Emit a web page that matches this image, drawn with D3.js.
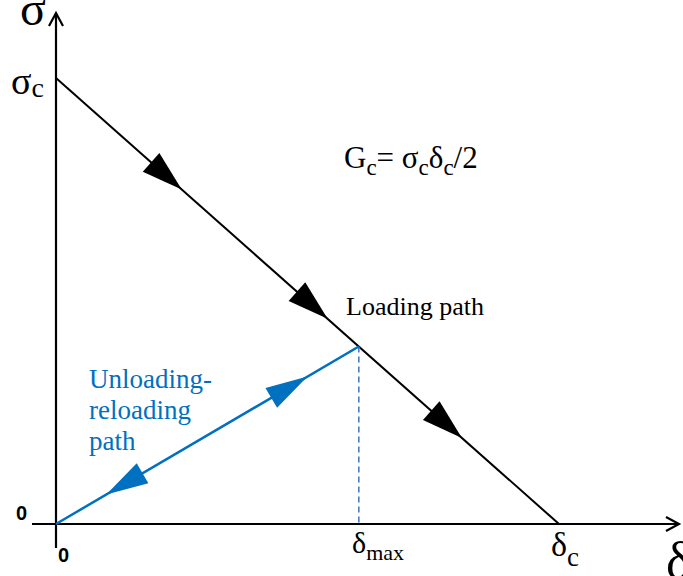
<!DOCTYPE html>
<html>
<head>
<meta charset="utf-8">
<script src="https://cdn.jsdelivr.net/npm/d3@7"></script>
<style>
  html, body { margin: 0; padding: 0; background: #fff; }
  svg { display: block; font-family: "Liberation Serif", "Times New Roman", serif; }
</style>
</head>
<body>
<div id="chart"></div>
<script>
// Normalised cohesive law: sigma / sigma_c vs delta / delta_c
const loadingPath = [ { d: 0, s: 1 }, { d: 1, s: 0 } ];
const deltaMax = 0.602;
const unloadPath = [ { d: 0, s: 0 }, { d: deltaMax, s: 1 - deltaMax } ];
const loadArrows = [0.25, 0.54, 0.807];     // arrow tips along loading path (delta)
const unloadArrows = [ { d: 0.50, dir: 1 }, { d: 0.10, dir: -1 } ];
const tickLabels = { x0: "0", y0: "0" };
const unloadLabel = ["Unloading-", "reloading", "path"];

const width = 683, height = 576;
const svg = d3.select("#chart").append("svg")
  .attr("width", width).attr("height", height);

const x = d3.scaleLinear().domain([0, 1]).range([56, 559]);
const y = d3.scaleLinear().domain([0, 1]).range([524, 78]);

const blue = "#0070C0";

// ---- axes ----
svg.append("line")
  .attr("x1", x(0)).attr("y1", 548).attr("x2", x(0)).attr("y2", 14)
  .attr("stroke", "#000").attr("stroke-width", 2.2);
svg.append("path")
  .attr("d", `M${x(0) - 7},${26} L${x(0)},${13} L${x(0) + 7},${26}`)
  .attr("fill", "none").attr("stroke", "#000").attr("stroke-width", 2.2);

svg.append("line")
  .attr("x1", 32).attr("y1", y(0)).attr("x2", 678).attr("y2", y(0))
  .attr("stroke", "#000").attr("stroke-width", 2.2);
svg.append("path")
  .attr("d", `M${666},${y(0) - 7} L${679},${y(0)} L${666},${y(0) + 7}`)
  .attr("fill", "none").attr("stroke", "#000").attr("stroke-width", 2.2);

// ---- lines ----
const line = d3.line().x(p => x(p.d)).y(p => y(p.s));

svg.append("path").attr("d", line(loadingPath))
  .attr("fill", "none").attr("stroke", "#000").attr("stroke-width", 2);

svg.append("line")
  .attr("x1", x(deltaMax)).attr("y1", y(1 - deltaMax))
  .attr("x2", x(deltaMax)).attr("y2", y(0))
  .attr("stroke", "#4a7cc4").attr("stroke-width", 1.6)
  .attr("stroke-dasharray", "6,4");

svg.append("path").attr("d", line(unloadPath))
  .attr("fill", "none").attr("stroke", blue).attr("stroke-width", 2.5);

// arrowhead helper: tip at (tx,ty), pointing in direction angle
function arrow(tx, ty, ang, color, len, half) {
  const bx = tx - len * Math.cos(ang), by = ty - len * Math.sin(ang);
  const nx = -Math.sin(ang) * half, ny = Math.cos(ang) * half;
  svg.append("path")
    .attr("d", `M${tx},${ty} L${bx + nx},${by + ny} L${bx - nx},${by - ny} Z`)
    .attr("fill", color);
}

const angLoad = Math.atan2(y(0) - y(1), x(1) - x(0));
loadArrows.forEach(d => arrow(x(d), y(1 - d), angLoad, "#000", 41, 12.5));

const angUn = Math.atan2(y(1 - deltaMax) - y(0), x(deltaMax) - x(0));
unloadArrows.forEach(a => {
  const s = a.d * (1 - deltaMax) / deltaMax;
  arrow(x(a.d), y(s), a.dir > 0 ? angUn : angUn + Math.PI, blue, 42, 11.5);
});

// ---- labels ----
function sub(sel, main, subtxt, subSize, shift) {
  sel.append("tspan").text(main);
  sel.append("tspan").attr("dy", shift).attr("font-size", subSize).text(subtxt);
}

svg.append("text").attr("x", 20).attr("y", 25).attr("font-size", 48).text("σ");
svg.append("text").attr("x", 666).attr("y", 578).attr("font-size", 52).text("δ");

const sc = svg.append("text").attr("x", 11).attr("y", 94).attr("font-size", 38);
sub(sc, "σ", "c", 28, 3);

const dc = svg.append("text").attr("x", 551).attr("y", 556).attr("font-size", 34);
sub(dc, "δ", "c", 27, 10);

const dm = svg.append("text").attr("x", 352).attr("y", 553).attr("font-size", 30);
sub(dm, "δ", "max", 22, 7);

svg.append("text").attr("x", 16).attr("y", 520)
  .attr("font-family", "Liberation Sans, Arial, sans-serif").attr("font-weight", "bold")
  .attr("font-size", 20).text(tickLabels.y0);
svg.append("text").attr("x", 58).attr("y", 562)
  .attr("font-family", "Liberation Sans, Arial, sans-serif").attr("font-weight", "bold")
  .attr("font-size", 20).text(tickLabels.x0);

const gc = svg.append("text").attr("x", 344).attr("y", 168).attr("font-size", 31);
gc.append("tspan").text("G");
gc.append("tspan").attr("dy", 7).attr("font-size", 23).text("c");
gc.append("tspan").attr("dy", -7).text("= σ");
gc.append("tspan").attr("dy", 7).attr("font-size", 23).text("c");
gc.append("tspan").attr("dy", -7).text("δ");
gc.append("tspan").attr("dy", 7).attr("font-size", 23).text("c");
gc.append("tspan").attr("dy", -7).text("/2");

svg.append("text").attr("x", 346).attr("y", 315).attr("font-size", 26).text("Loading path");

svg.append("g").selectAll("text").data(unloadLabel).join("text")
  .attr("x", 89).attr("y", (d, i) => 388 + i * 31)
  .attr("font-size", 27).attr("fill", blue).text(d => d);
</script>
</body>
</html>
